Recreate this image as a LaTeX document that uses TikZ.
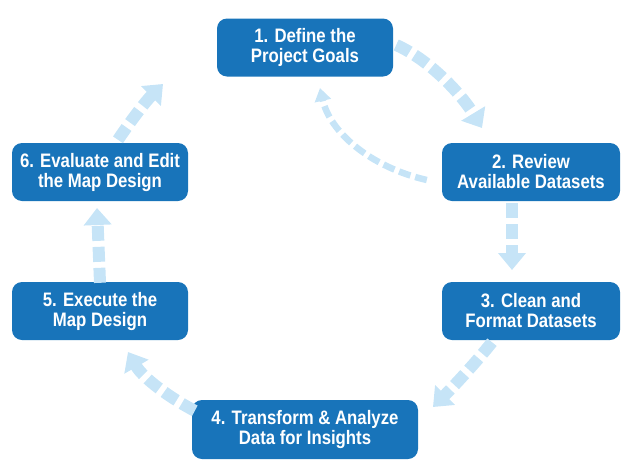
\documentclass[tikz,border=0pt]{standalone}
\usepackage{fontspec}
\newfontfamily\boxfont[FakeStretch=0.86]{Liberation Sans}
\usetikzlibrary{arrows.meta}
\definecolor{boxblue}{RGB}{24,116,186}
\definecolor{arrowblue}{RGB}{198,228,247}
\tikzset{
  stepbox/.style={draw=none, fill=boxblue, rounded corners=10pt, text=white,
    align=center, inner sep=0pt, minimum height=58pt,
    font=\boxfont\bfseries\fontsize{19.5}{20}\selectfont},
  bigarrow/.style={draw=arrowblue, line width=12pt, dash pattern=on 15pt off 6pt,
    -{Triangle[width=27pt,length=17pt]}},
  thinarrow/.style={draw=arrowblue, line width=6.5pt, dash pattern=on 12pt off 5pt,
    -{Triangle[width=16pt,length=13pt]}}
}
\begin{document}
\begin{tikzpicture}[x=1pt,y=-1pt]
\useasboundingbox (0,0) rectangle (630,464);
\node[stepbox, minimum width=176pt] (n1) at (305,47.5) {1. Define the\\Project Goals};
\node[stepbox, minimum width=178pt] (n2) at (531,172) {2. Review\\Available Datasets};
\node[stepbox, minimum width=178pt] (n3) at (531,311) {3. Clean and\\Format Datasets};
\node[stepbox, minimum width=226pt, minimum height=59pt] (n4) at (305,429.5) {4. Transform \& Analyze\\Data for Insights};
\node[stepbox, minimum width=176pt] (n5) at (100,311) {5. Execute the\\Map Design};
\node[stepbox, minimum width=176pt] (n6) at (100,172) {6. Evaluate and Edit\\the Map Design};
\coordinate (t12) at (482,128);
\coordinate (t23) at (512,270);
\coordinate (t34) at (433,407);
\coordinate (t45) at (128,352);
\coordinate (t56) at (97,208);
\coordinate (t61) at (163,84);
\coordinate (t21) at (320,88);
\draw[bigarrow] ([xshift=3pt,yshift=2.5pt]n1.east) .. controls (430,60) and (462,95) .. (t12);
\draw[bigarrow] ([xshift=-19pt,yshift=-2pt]n2.south) -- (t23);
\draw[bigarrow] ([xshift=-39pt,yshift=-2pt]n3.south) .. controls (478,360) and (455,385) .. (t34);
\draw[bigarrow] ([xshift=3pt,yshift=-11pt]n4.north west) .. controls (170,398) and (143,378) .. (t45);
\draw[bigarrow] ([yshift=-1pt]n5.north) -- (t56);
\draw[bigarrow] ([xshift=18pt,yshift=3pt]n6.north) .. controls (130,122) and (145,102) .. (t61);
\draw[thinarrow] ([xshift=-15pt,yshift=-8pt]n2.west) .. controls (370,167) and (330,132) .. (t21);
\end{tikzpicture}
\end{document}
